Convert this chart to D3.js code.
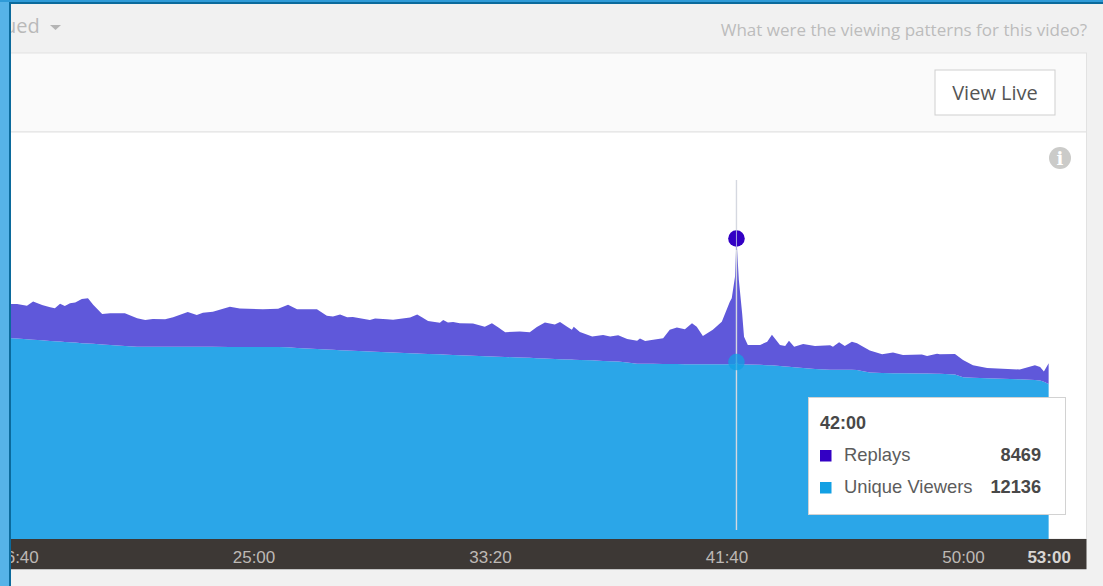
<!DOCTYPE html>
<html><head><meta charset="utf-8">
<script src="https://cdn.jsdelivr.net/npm/d3@7"></script>
<style>html,body{margin:0;padding:0;background:#f1f1f1;overflow:hidden}svg{display:block}</style>
</head><body><svg id="c" width="1103" height="586"></svg>
<script>
const seconds=[980,999,1020,1033,1052,1069,1079,1090,1100,1111,1122,1136,1149,1160,1179,1196,1227,1253,1270,1286,1312,1329,1360,1379,1392,1413,1449,1470,1519,1551,1572,1591,1633,1654,1667,1682,1697,1709,1745,1756,1781,1794,1830,1845,1855,1868,1893,1900,1910,1921,1935,1963,1988,2003,2016,2031,2062,2083,2098,2115,2136,2147,2162,2172,2176,2189,2215,2238,2253,2270,2289,2310,2316,2327,2344,2365,2379,2394,2411,2426,2436,2449,2470,2489,2506,2510,2517,2520,2525,2532,2536,2544,2570,2585,2595,2612,2623,2631,2642,2661,2686,2718,2724,2737,2749,2764,2775,2785,2802,2828,2851,2872,2912,2923,2944,2950,2982,2999,3020,3050,3119,3151,3162,3170,3180];
const replays=[2330,2380,2310,2610,2430,2310,2260,2590,2470,2680,2740,3030,3110,2680,2080,2180,2250,1950,1830,1900,1880,2020,2380,2180,2340,2410,2760,2630,2590,2620,2920,2650,2720,2300,2270,2440,2280,2320,2170,2280,2270,2240,2440,2670,2500,2260,2160,2370,2200,2260,2200,2200,2030,2280,2020,1700,1780,1760,2130,2460,2350,2550,2250,2040,2270,1920,1630,1780,1690,1800,1620,1580,1740,1560,1650,1770,2340,2500,2390,2810,2570,1930,2350,2920,4290,4530,6020,8469,5800,3510,1910,1350,1370,1610,2090,1440,1410,1790,1410,1650,1590,1680,1580,1890,1640,1930,1830,1720,1500,1290,1410,1260,1300,1210,1380,1340,1410,1190,850,700,670,1020,930,700,1420];
const uniqueViewers=[13790,13740,13690,13670,13620,13580,13560,13540,13510,13490,13470,13430,13400,13380,13340,13300,13230,13190,13190,13190,13190,13190,13190,13180,13180,13180,13170,13170,13160,13160,13140,13100,13030,13000,12980,12950,12930,12910,12850,12840,12800,12790,12740,12720,12700,12690,12660,12650,12640,12620,12600,12570,12530,12510,12500,12480,12440,12420,12400,12380,12350,12330,12310,12300,12290,12280,12250,12210,12190,12170,12100,12010,12010,12010,12010,12000,12000,12000,11990,11990,11990,11990,11990,11980,11980,11980,11980,12136,11970,11970,11960,11960,11940,11920,11910,11870,11830,11810,11780,11720,11650,11610,11610,11600,11600,11600,11590,11520,11420,11380,11370,11360,11350,11340,11330,11330,11280,11090,11060,11030,10950,10900,10870,10780,10630];
const tickSeconds=[1000,1500,2000,2500,3000,3180];
const tickLabels=["16:40","25:00","33:20","41:40","50:00","53:00"];
const seriesNames=["Unique Viewers","Replays"];
const tooltipTitle="42:00", tooltipTime=2520;

const FONT="'Liberation Sans',Arial,sans-serif", OPEN="'Open Sans',sans-serif";
const svg=d3.select("#c");
const x=d3.scaleLinear().domain([1500,3000]).range([254,963.5]);
const y=d3.scaleLinear().domain([0,20605]).range([539,238.5]);
const rows=seconds.map((s,i)=>({s,"Replays":replays[i],"Unique Viewers":uniqueViewers[i]}));
const stacked=d3.stack().keys(seriesNames)(rows);
const colors={"Unique Viewers":"#2ba6e8","Replays":"#5f58da"};
const dotColors={"Unique Viewers":"#12a0e4","Replays":"#3300c4"};

// page chrome
svg.append("rect").attr("x",10).attr("y",53).attr("width",1076.5).attr("height",79).attr("fill","#fafafa").attr("stroke","#e2e2e2");
svg.append("rect").attr("x",10).attr("y",132).attr("width",1076.5).attr("height",407).attr("fill","#fff").attr("stroke","#e2e2e2");
svg.append("text").attr("x",4).attr("y",33).attr("font-family",OPEN).attr("font-size",20).attr("fill","#b9b9b9").text("ued");
svg.append("path").attr("d","M50 25h11l-5.5 5z").attr("fill","#b5b5b5");
svg.append("text").attr("x",1087).attr("y",36).attr("text-anchor","end").attr("font-family",OPEN).attr("font-size",17).attr("fill","#bcbcbc").text("What were the viewing patterns for this video?");
svg.append("rect").attr("x",935).attr("y",70).attr("width",120).attr("height",45).attr("fill","#fff").attr("stroke","#cfcfcf");
svg.append("text").attr("x",995).attr("y",100).attr("text-anchor","middle").attr("font-family",OPEN).attr("font-size",20).attr("fill","#555").text("View Live");
svg.append("circle").attr("cx",1060).attr("cy",158).attr("r",11).attr("fill","#cbcbc9");
svg.append("text").attr("x",1060).attr("y",165).attr("text-anchor","middle").attr("font-family","'DejaVu Serif',serif").attr("font-weight","bold").attr("font-size",18).attr("fill","#fff").text("i");

// areas
const area=d3.area().x(d=>x(d.data.s)).y0(d=>y(d[0])).y1(d=>y(d[1]));
svg.append("g").selectAll("path").data(stacked).join("path").attr("d",area).attr("fill",d=>colors[d.key]);

// axis
svg.append("rect").attr("x",10).attr("y",539).attr("width",1076.5).attr("height",30).attr("fill","#3d3835");
svg.append("rect").attr("x",10).attr("y",569).attr("width",1076.5).attr("height",1).attr("fill","#c4c4c4");
const axis=svg.append("g").attr("transform","translate(0,539)").call(d3.axisBottom(x).tickValues(tickSeconds).tickSize(0).tickPadding(10).tickFormat((d,i)=>tickLabels[i]));
axis.select(".domain").remove();
axis.selectAll("text").attr("font-family",FONT).attr("font-size",17).attr("fill","#bdb9b5").attr("dx",d=>d===3180?0:-0.5)
  .attr("font-weight",d=>d===3180?"bold":"normal").attr("dy","0.85em");
axis.selectAll(".tick").filter(d=>d===3180).select("text").attr("fill","#d8d5d2");

// crosshair and dots
const i0=seconds.indexOf(tooltipTime), hx=x(tooltipTime);
svg.append("line").attr("x1",hx).attr("x2",hx).attr("y1",180).attr("y2",530).attr("stroke","#d5d8e0").attr("stroke-width",1.4);
svg.append("g").selectAll("circle").data(stacked).join("circle").attr("cx",hx).attr("cy",d=>y(d[i0][1])).attr("r",8.3)
  .attr("fill",d=>dotColors[d.key]).attr("fill-opacity",d=>d.key==="Replays"?1:.75);
svg.append("line").attr("x1",hx).attr("x2",hx).attr("y1",230).attr("y2",250).attr("stroke","#a9a6e0").attr("stroke-width",1);

// tooltip
const tip=svg.append("g");
tip.append("rect").attr("x",808.5).attr("y",397.5).attr("width",257).attr("height",117).attr("fill","#fff").attr("stroke","#d2d2d2");
tip.append("text").attr("x",820).attr("y",429).attr("font-family",FONT).attr("font-size",18).attr("font-weight","bold").attr("fill","#484848").text(tooltipTitle);
const legendRows=[{n:"Replays",v:replays[i0],yy:461},{n:"Unique Viewers",v:uniqueViewers[i0],yy:493}];
legendRows.forEach(r=>{
  tip.append("rect").attr("x",820).attr("y",r.yy-11).attr("width",11.5).attr("height",11.5).attr("fill",dotColors[r.n]);
  tip.append("text").attr("x",844).attr("y",r.yy).attr("font-family",FONT).attr("font-size",18.4).attr("fill","#5c5c5c").text(r.n);
  tip.append("text").attr("x",1041).attr("y",r.yy).attr("text-anchor","end").attr("font-family",FONT).attr("font-size",18.2).attr("font-weight","bold").attr("fill","#484848").text(r.v);
});

// screenshot frame
svg.append("rect").attr("x",0).attr("y",0).attr("width",9).attr("height",586).attr("fill","#56b3e8");
svg.append("rect").attr("x",9).attr("y",2).attr("width",2).attr("height",584).attr("fill","#0b6a9c");
svg.append("rect").attr("x",0).attr("y",0).attr("width",1103).attr("height",2).attr("fill","#2f9bd8");
svg.append("rect").attr("x",9).attr("y",2).attr("width",1094).attr("height",2).attr("fill","#0b6a9c");
</script></body></html>
